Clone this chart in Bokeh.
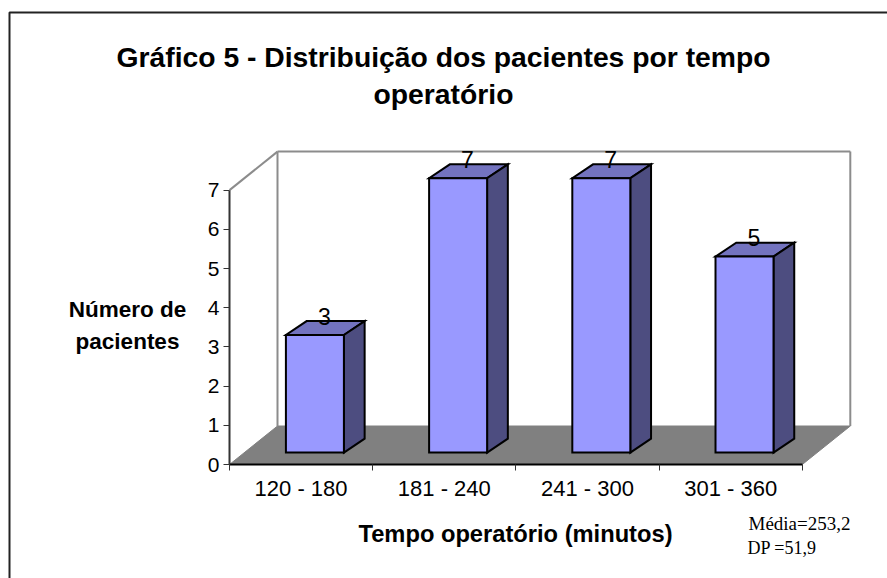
from bokeh.plotting import figure
from bokeh.models import Label, FixedTicker, BoxAnnotation
from bokeh.embed import file_html
from bokeh.resources import INLINE

categories = ["120 - 180", "181 - 240", "241 - 300", "301 - 360"]
values = [3, 7, 7, 5]
y_ticks = [0, 1, 2, 3, 4, 5, 6, 7]
title_lines = "Gráfico 5 - Distribuição dos pacientes por tempo\noperatório"

W, H = 887, 578
PX, PY = 143.2, 39.2
L, B = 229, 464                      # page position of the chart's origin
DX, DY = 48 / PX, 38.5 / PY          # depth of the 3D box
BAR_L, BAR_W = 0.29, 58 / PX
SHIFT = 0.31
BAR_D = 0.36
FRONT, TOP, SIDE = "#9999FF", "#7373BF", "#4D4D80"

p = figure(width=W, height=H, output_backend="svg", toolbar_location=None,
           x_range=(-L / PX, (W - L) / PX), y_range=((B - H) / PY, B / PY),
           min_border_left=0, min_border_right=0, min_border_top=0, min_border_bottom=0,
           outline_line_color=None, background_fill_color="white")
p.grid.visible = False

# floor and walls
p.patch([0, DX, 4 + DX, 4], [0, DY, DY, 0], fill_color="#808080", line_color="#808080")
p.line([0, DX], [7, 7 + DY], line_color="#8C8C8C", line_width=2)
p.line([DX, DX], [DY, 7 + DY], line_color="#8C8C8C", line_width=2)
p.line([DX, 4 + DX], [7 + DY, 7 + DY], line_color="#8C8C8C", line_width=2)
p.line([4 + DX, 4 + DX], [DY, 7 + DY], line_color="#8C8C8C", line_width=2)

# bars
tx, ty = [], []
for i, v in enumerate(values):
    x0 = i + BAR_L + SHIFT * DX
    x1 = x0 + BAR_W
    b = SHIFT * DY
    t = b + v
    ox, oy = BAR_D * DX * 1.2, BAR_D * DY
    p.patch([x0, x1, x1 + ox, x0 + ox], [t, t, t + oy, t + oy],
            fill_color=TOP, line_color="black", line_width=2, line_join="miter")
    p.patch([x1, x1 + ox, x1 + ox, x1], [b, b + oy, t + oy, t],
            fill_color=SIDE, line_color="black", line_width=2, line_join="miter")
    p.patch([x0, x1, x1, x0], [b, b, t, t],
            fill_color=FRONT, line_color="black", line_width=2, line_join="miter")
    tx.append((x0 + x1 + ox) / 2)
    ty.append(t + oy / 2)

p.text(tx, ty, text=[str(v) for v in values], text_align="center", text_baseline="middle",
       text_font={"value": "Liberation Sans"}, text_font_size="23px", text_color="black",
       x_offset=-1, y_offset=-12)

# axes
ya = p.yaxis[0]
ya.fixed_location = 0
ya.bounds = (0, 7)
ya.ticker = FixedTicker(ticks=y_ticks)
ya.axis_line_color = "#333333"
ya.axis_line_width = 2
ya.major_tick_in = 0
ya.major_tick_out = 6
ya.major_tick_line_color = "#333333"
ya.minor_tick_line_color = None
ya.major_label_text_font = "Liberation Sans"
ya.major_label_text_font_size = "21px"
ya.major_label_text_color = "black"
ya.major_label_standoff = 4

xa = p.xaxis[0]
xa.fixed_location = 0
xa.bounds = (0, 4)
centers = [i + 0.5 for i in range(len(categories))]
xa.ticker = FixedTicker(ticks=centers, minor_ticks=list(range(len(categories) + 1)))
xa.major_label_overrides = dict(zip(centers, categories))
xa.axis_line_color = "black"
xa.axis_line_width = 2
xa.major_tick_line_color = None
xa.minor_tick_in = 0
xa.minor_tick_out = 6
xa.minor_tick_line_color = "#333333"
xa.major_label_text_font = "Liberation Sans"
xa.major_label_text_font_size = "22px"
xa.major_label_text_color = "black"
xa.major_label_standoff = 5


def lab(text, x, y, size, font="Liberation Sans", style="normal", align="center", lh=1.2):
    p.add_layout(Label(x=x, y=H - y, x_units="screen", y_units="screen", text=text,
                       text_font=font, text_font_size=size, text_font_style=style,
                       text_align=align, text_baseline="middle", text_color="black",
                       text_line_height=lh))


lab(title_lines, 443, 75, "28.3px", style="bold", lh=1.17)
lab("Número de\npacientes", 127, 325, "22.5px", style="bold", lh=1.25)
lab("Tempo operatório (minutos)", 515, 533, "23.7px", style="bold")
lab("Média=253,2", 799, 523, "19px", font="Liberation Serif")
lab("DP =51,9", 747, 547, "18px", font="Liberation Serif", align="left")

# outer chart border
p.add_layout(BoxAnnotation(left=9, right=W + 10, top=H - 12, bottom=-10,
                           left_units="screen", right_units="screen",
                           top_units="screen", bottom_units="screen",
                           fill_alpha=0, line_color="#222222", line_alpha=1, line_width=2))

open("out.html", "w").write(file_html(p, INLINE))
